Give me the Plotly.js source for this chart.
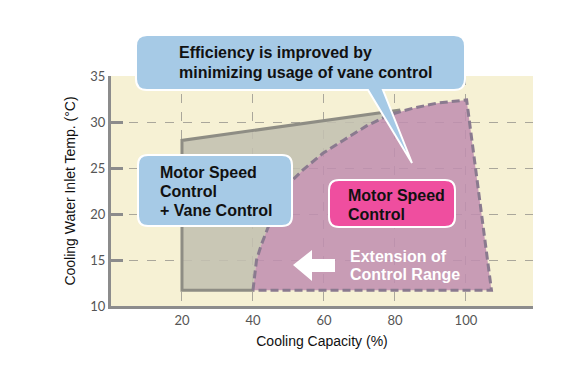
<!DOCTYPE html>
<html>
<head>
<meta charset="utf-8">
<script src="https://cdn.plot.ly/plotly-3.0.1.min.js"></script>
<style>html,body{margin:0;padding:0;background:#fff;}#chart{width:580px;height:386px;}</style>
</head>
<body>
<div id="chart"></div>
<script>
// ---- data ----
const xTicks = [20, 40, 60, 80, 100];
const yTicks = [10, 15, 20, 25, 30, 35];

// boundary of the motor-speed-only region (dashed curve), bottom to top
const curveX = [40.0, 41.0, 42.3, 44.2, 47.0, 50.4, 54.1, 59.7, 65.4, 72.1, 78.6, 85.1, 91.8, 100.2];
const curveY = [11.7, 15.0, 16.6, 18.5, 21.0, 23.4, 24.8, 26.6, 28.0, 29.6, 30.8, 31.5, 32.05, 32.4];
// right edge bottom corner of motor speed region
const msRightX = [107.2];
const msRightY = [11.7];

// motor speed + vane control region outline (solid gray): bottom, left, top
const vaneEdgeX = [40, 20, 20, 81.5];
const vaneEdgeY = [11.7, 11.7, 28.0, 31.3];

// ---- build polygons from the arrays ----
const purpleX = curveX.concat(msRightX, [curveX[0]]);
const purpleY = curveY.concat(msRightY, [curveY[0]]);

const grayX = [], grayY = [];
for (let i = 0; i < vaneEdgeX.length; i++) { grayX.push(vaneEdgeX[i]); grayY.push(vaneEdgeY[i]); }
for (let i = curveX.length - 1; i >= 0; i--) {
  if (curveX[i] < vaneEdgeX[vaneEdgeX.length - 1]) { grayX.push(curveX[i]); grayY.push(curveY[i]); }
}

const traces = [
  {x: grayX, y: grayY, type: 'scatter', mode: 'lines', fill: 'toself',
   fillcolor: 'rgba(195,192,177,0.88)', line: {width: 0, color: 'rgba(0,0,0,0)'},
   hoverinfo: 'skip', showlegend: false},
  {x: vaneEdgeX, y: vaneEdgeY, type: 'scatter', mode: 'lines',
   line: {width: 3, color: '#8e8d84'}, hoverinfo: 'skip', showlegend: false},
  {x: purpleX, y: purpleY, type: 'scatter', mode: 'lines', fill: 'toself',
   fillcolor: 'rgba(192,142,176,0.86)', line: {width: 3, color: '#8a7a8f', dash: '8px,4px'},
   hoverinfo: 'skip', showlegend: false}
];

// ---- decoration helpers (pixel -> paper) ----
const L = 111, R = 533, T = 76, B = 306;
const W = R - L, H = B - T;
const fx = px => (px - L) / W;
const fy = py => (B - py) / H;
const P = (px, py) => fx(px).toFixed(5) + ',' + fy(py).toFixed(5);

function roundRect(x0, y0, x1, y1, r, tail) {
  let s = 'M' + P(x0 + r, y0) + ' L' + P(x1 - r, y0) + ' Q' + P(x1, y0) + ' ' + P(x1, y0 + r) +
    ' L' + P(x1, y1 - r) + ' Q' + P(x1, y1) + ' ' + P(x1 - r, y1);
  if (tail) {
    s += ' L' + P(tail[1], y1) + ' L' + P(tail[2], tail[3]) + ' L' + P(tail[0], y1);
  }
  s += ' L' + P(x0 + r, y1) + ' Q' + P(x0, y1) + ' ' + P(x0, y1 - r) +
    ' L' + P(x0, y0 + r) + ' Q' + P(x0, y0) + ' ' + P(x0 + r, y0) + ' Z';
  return s;
}

const blue = '#a6cae6';
const shapes = [
  {type: 'path', xref: 'paper', yref: 'paper', layer: 'above',
   path: roundRect(136, 35, 465, 90, 11, [368, 383, 412, 163]),
   fillcolor: blue, line: {color: '#ffffff', width: 2}},
  {type: 'path', xref: 'paper', yref: 'paper', layer: 'above',
   path: roundRect(138, 155, 292, 226, 10),
   fillcolor: blue, line: {color: '#ffffff', width: 2}},
  {type: 'path', xref: 'paper', yref: 'paper', layer: 'above',
   path: roundRect(329, 180, 455, 227, 10),
   fillcolor: '#ef4e9f', line: {color: '#ffffff', width: 2}},
  {type: 'path', xref: 'paper', yref: 'paper', layer: 'above',
   path: 'M' + P(293, 265) + ' L' + P(312, 250) + ' L' + P(312, 259) + ' L' + P(335, 259) +
     ' L' + P(335, 272) + ' L' + P(312, 272) + ' L' + P(312, 281) + ' Z',
   fillcolor: '#ffffff', line: {width: 0}}
];

const bold = {family: 'Liberation Sans, Arial, sans-serif', size: 16, color: '#111111'};
function label(text, px, py, color) {
  return {text: '<b>' + text + '</b>', xref: 'paper', yref: 'paper', x: fx(px), y: fy(py),
    xanchor: 'left', yanchor: 'middle', showarrow: false, align: 'left',
    font: Object.assign({}, bold, color ? {color: color} : {})};
}
const annotations = [
  label('Efficiency is improved by', 177, 53),
  label('minimizing usage of vane control', 177, 72),
  label('Motor Speed', 158, 172.5),
  label('Control', 158, 191.5),
  label('+ Vane Control', 158, 210.7),
  label('Motor Speed', 346, 195),
  label('Control', 346, 214),
  label('Extension of', 348, 256.7, '#ffffff'),
  label('Control Range', 348, 274.3, '#ffffff')
];

const tickFont = {family: 'Lato, sans-serif', size: 13, color: '#555555'};
const layout = {
  width: 580, height: 386,
  margin: {l: L, r: 580 - R, t: T, b: 386 - B, pad: 0},
  paper_bgcolor: '#ffffff', plot_bgcolor: '#f6f1d4',
  showlegend: false,
  xaxis: {
    range: [0, 118.9], tickvals: xTicks, ticktext: xTicks.map(String),
    showgrid: true, gridcolor: '#aaa79b', griddash: 'dash', gridwidth: 1,
    zeroline: false, showline: true, linecolor: '#8c8c8c', linewidth: 3,
    ticks: '', tickfont: tickFont, fixedrange: true,
    title: {text: 'Cooling Capacity (%)', font: {family: 'Liberation Sans, Arial, sans-serif', size: 14, color: '#111111'}, standoff: 10}
  },
  yaxis: {
    range: [10, 35], tickvals: yTicks, ticktext: yTicks.map(String),
    showgrid: true, gridcolor: '#aaa79b', griddash: 'dash', gridwidth: 1,
    zeroline: false, showline: true, linecolor: '#8c8c8c', linewidth: 3,
    ticks: 'inside', ticklen: 12, tickwidth: 3, tickcolor: '#8c8c8c',
    tickfont: tickFont, fixedrange: true,
    title: {text: 'Cooling Water Inlet Temp. (°C)', font: {family: 'Liberation Sans, Arial, sans-serif', size: 14, color: '#111111'}, standoff: 12}
  },
  shapes: shapes,
  annotations: annotations
};

Plotly.newPlot('chart', traces, layout, {displayModeBar: false, staticPlot: true});
</script>
</body>
</html>
